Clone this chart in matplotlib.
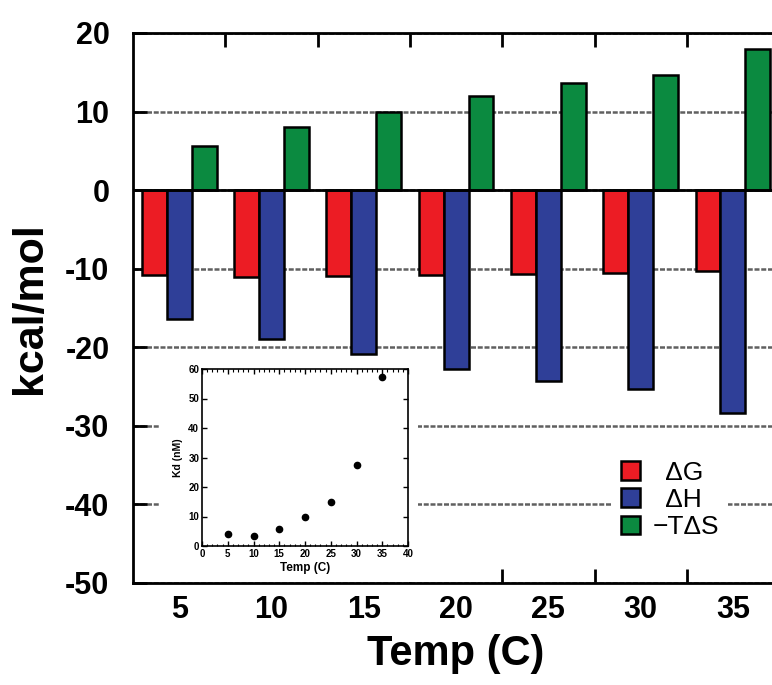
import numpy as np
import matplotlib
matplotlib.use("Agg")
import matplotlib.pyplot as plt
from matplotlib.patches import Rectangle
from matplotlib.ticker import MultipleLocator

plt.rcParams['font.family'] = ['Liberation Sans', 'DejaVu Sans']
plt.rcParams['axes.unicode_minus'] = False

# main chart data
temps = [5, 10, 15, 20, 25, 30, 35]
delta_g = [-10.8, -11.0, -10.9, -10.8, -10.65, -10.5, -10.3]
delta_h = [-16.4, -19.0, -20.8, -22.8, -24.3, -25.3, -28.3]
minus_tds = [5.6, 8.0, 9.9, 12.0, 13.6, 14.7, 17.9]
series_labels = ['  \u0394G', '  \u0394H', '\u2212T\u0394S']
series_colors = ['#ec1c24', '#2f3f98', '#0b8a40']

# inset data
kd_temps = [5, 10, 15, 20, 25, 30, 35]
kd_values = [4.0, 3.5, 5.8, 9.8, 15.0, 27.3, 57.3]

fig = plt.figure(figsize=(7.72, 6.85), dpi=100)
ax = fig.add_axes([133 / 772, 1 - 583 / 685, 7 * 92.3 / 772, 550 / 685])

x = np.arange(len(temps))
w = 0.27
for off, vals, col, lab in zip([-w, 0, w], [delta_g, delta_h, minus_tds],
                               series_colors, series_labels):
    ax.bar(x + off, vals, width=w, color=col, edgecolor='black',
           linewidth=1.8, label=lab, zorder=2)

ax.axhline(0, color='black', lw=2, zorder=3)
ax.set_xlim(-0.5, 6.5)
ax.set_ylim(-50, 20)
ax.yaxis.set_major_locator(MultipleLocator(10))
ax.grid(axis='y', color='#606060', ls=(0, (2, 0.7)), lw=1.8)
ax.set_axisbelow(True)

ax.set_xticks(x, labels=[str(t) for t in temps])
ax.set_xticks(x[:-1] + 0.5, minor=True)
ax.tick_params(axis='x', which='major', length=0, pad=9, labelsize=22)
ax.tick_params(axis='x', which='minor', direction='in', length=10, width=2,
               top=True, bottom=True)
ax.tick_params(axis='y', direction='in', length=10, width=2, pad=17,
               labelsize=22)
for t in ax.get_xticklabels() + ax.get_yticklabels():
    t.set_fontweight('bold')

for s in ax.spines.values():
    s.set_linewidth(2)

ax.set_xlabel('Temp (C)', fontsize=30, fontweight='bold', labelpad=6)
ax.set_ylabel('kcal/mol', fontsize=31, fontweight='bold', labelpad=11)

# white area behind the inset hides the grid lines
ax.add_patch(Rectangle((160 / 772, 1 - 582 / 685), 258 / 772, 224 / 685,
                       transform=fig.transFigure, facecolor='white',
                       edgecolor='none', zorder=1))

leg = ax.legend(loc='center', bbox_to_anchor=(670 / 772, 1 - 500 / 685),
                bbox_transform=fig.transFigure, fontsize=19,
                handlelength=0.72, handleheight=0.72, handletextpad=0.45,
                labelspacing=0.12, borderpad=0.35, frameon=True,
                fancybox=False, framealpha=1)
leg.get_frame().set_edgecolor('none')
leg.get_frame().set_facecolor('white')

# inset Kd plot
axi = fig.add_axes([202 / 772, 1 - 546 / 685, 206 / 772, 177 / 685])
axi.plot(kd_temps, kd_values, 'o', color='black', ms=4.5)
axi.set_xlim(0, 40)
axi.set_ylim(0, 60)
axi.xaxis.set_major_locator(MultipleLocator(5))
axi.xaxis.set_minor_locator(MultipleLocator(1))
axi.yaxis.set_major_locator(MultipleLocator(10))
axi.tick_params(which='both', direction='in', top=True, right=True,
                labelsize=7, pad=2)
axi.tick_params(which='major', length=3.5, width=1)
axi.tick_params(which='minor', length=1.8, width=0.8)
for t in axi.get_xticklabels() + axi.get_yticklabels():
    t.set_fontweight('bold')
for s in axi.spines.values():
    s.set_linewidth(1.2)
axi.set_xlabel('Temp (C)', fontsize=8.5, fontweight='bold', labelpad=2)
axi.set_ylabel('Kd (nM)', fontsize=7.5, fontweight='bold', labelpad=4)

fig.savefig('out.png', dpi=100)
